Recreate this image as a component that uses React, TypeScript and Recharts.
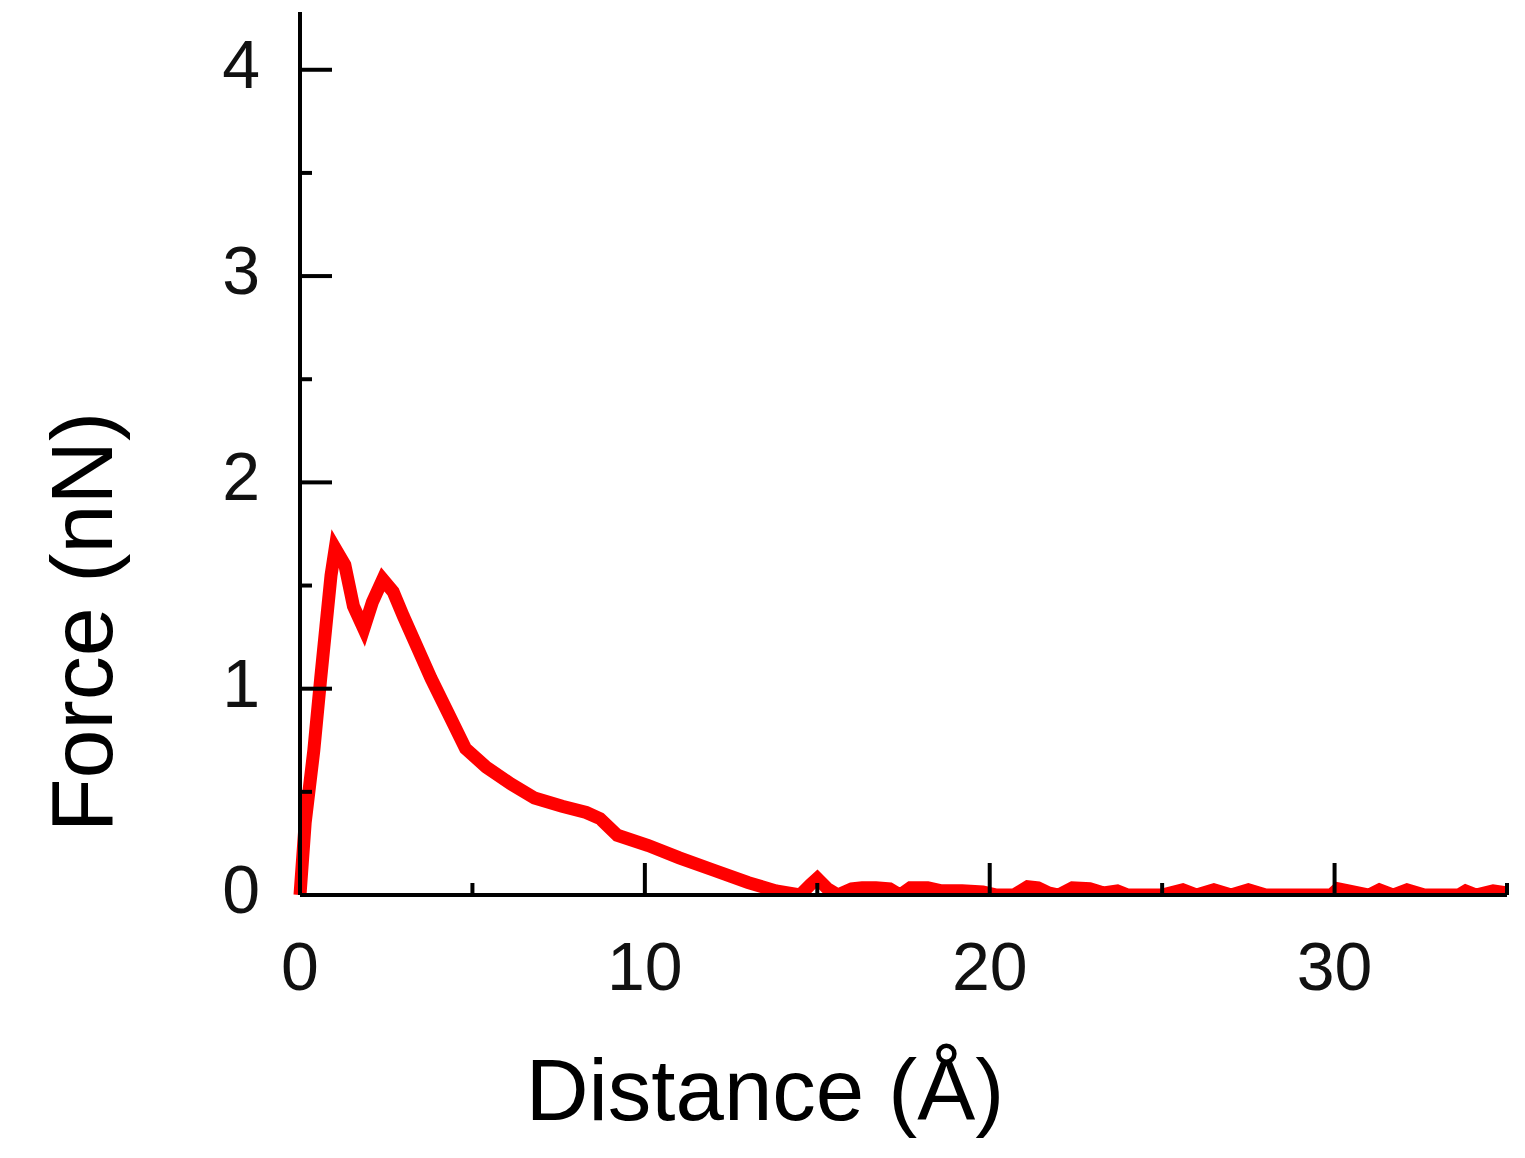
import { LineChart, Line, XAxis, YAxis, Label } from "recharts";

// distance (Å) and force (nN)
const distance = [
  0, 0.15, 0.4, 0.6, 0.75, 0.9, 1.02, 1.3, 1.55, 1.85, 2.1, 2.4, 2.7, 3.0, 3.4,
  3.8, 4.3, 4.8, 5.4, 6.1, 6.8, 7.6, 8.3, 8.7, 9.2, 10.1, 11.0, 12.0, 13.0,
  13.8, 14.5, 14.8, 15.0, 15.3, 15.6, 16.0, 16.3, 16.7, 17.1, 17.4, 17.7, 18.2,
  18.6, 19.2, 19.8, 20.2, 20.7, 21.1, 21.4, 21.7, 22.0, 22.4, 22.9, 23.3, 23.7,
  24.0, 25.0, 25.6, 26.0, 26.5, 27.0, 27.5, 28.0, 29.9, 30.1, 30.4, 31.0, 31.3,
  31.7, 32.1, 32.6, 33.6, 33.8, 34.1, 34.6, 35.0,
];
const force = [
  0, 0.35, 0.7, 1.05, 1.3, 1.55, 1.68, 1.6, 1.4, 1.29, 1.42, 1.53, 1.47, 1.35,
  1.2, 1.05, 0.88, 0.71, 0.62, 0.54, 0.47, 0.43, 0.4, 0.37, 0.29, 0.24, 0.18,
  0.12, 0.06, 0.02, 0.0, 0.05, 0.08, 0.03, 0.0, 0.03, 0.035, 0.035, 0.03, 0.0,
  0.035, 0.035, 0.02, 0.02, 0.015, 0.0, 0.0, 0.04, 0.035, 0.01, 0.0, 0.035,
  0.03, 0.01, 0.02, 0.0, 0.0, 0.025, 0.0, 0.025, 0.0, 0.025, 0.0, 0.0, 0.03,
  0.02, 0.0, 0.025, 0.0, 0.025, 0.0, 0.0, 0.02, 0.0, 0.02, 0.01,
];

const xTicks = [0, 5, 10, 15, 20, 25, 30, 35];
const yTicks = [0, 0.5, 1, 1.5, 2, 2.5, 3, 3.5, 4];

const data = distance.map((d, i) => ({ distance: d, force: force[i] }));

const font = '"Liberation Sans", Arial, sans-serif';

function XTick(props: any) {
  const { x, y, payload } = props;
  const major = payload.value % 10 === 0;
  return (
    <g>
      <line x1={x} y1={y} x2={x} y2={y - (major ? 32 : 12)} stroke="#000" strokeWidth={4} />
      {major && payload.value < 35 && (
        <text x={x} y={y + 95} textAnchor="middle" fontSize={68} fontFamily={font} fill="#111">
          {payload.value}
        </text>
      )}
    </g>
  );
}

function YTick(props: any) {
  const { x, y, payload } = props;
  const major = Number.isInteger(payload.value);
  return (
    <g>
      <line x1={x} y1={y} x2={x + (major ? 32 : 12)} y2={y} stroke="#000" strokeWidth={4} />
      {major && (
        <text x={x - 40} y={y + 18} textAnchor="end" fontSize={68} fontFamily={font} fill="#111">
          {payload.value}
        </text>
      )}
    </g>
  );
}

export default function App() {
  return (
    <div style={{ position: "absolute", left: 0, top: 0, background: "#fff" }}>
      <LineChart
        width={1525}
        height={1158}
        data={data}
        margin={{ top: 12, right: 18, bottom: 163, left: 200 }}
      >
        <XAxis
          dataKey="distance"
          type="number"
          domain={[0, 35]}
          ticks={xTicks}
          height={100}
          tickSize={0}
          tickMargin={0}
          tickLine={false}
          tick={XTick}
          axisLine={{ stroke: "#000", strokeWidth: 4 }}
        >
          <Label
            content={() => (
              <text x={765} y={1120} textAnchor="middle" fontSize={87} fontFamily={font} fill="#000">
                Distance (Å)
              </text>
            )}
          />
        </XAxis>
        <YAxis
          type="number"
          domain={[0, 4.28]}
          ticks={yTicks}
          width={100}
          tickSize={0}
          tickMargin={0}
          tickLine={false}
          tick={YTick}
          allowDataOverflow
          axisLine={{ stroke: "#000", strokeWidth: 4 }}
        >
          <Label
            content={() => (
              <text
                x={112}
                y={622}
                textAnchor="middle"
                fontSize={88}
                fontFamily={font}
                fill="#000"
                transform="rotate(-90 112 622)"
              >
                Force (nN)
              </text>
            )}
          />
        </YAxis>
        <Line
          type="linear"
          dataKey="force"
          stroke="#ff0000"
          strokeWidth={13}
          dot={false}
          isAnimationActive={false}
        />
      </LineChart>
    </div>
  );
}
